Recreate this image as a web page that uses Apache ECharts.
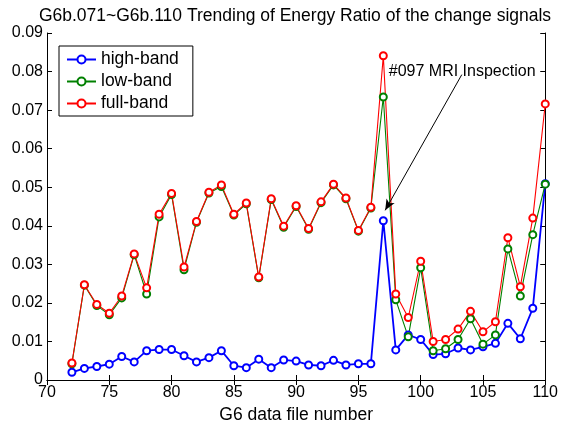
<!DOCTYPE html>
<html>
<head>
<meta charset="utf-8">
<script src="https://cdn.jsdelivr.net/npm/echarts@6/dist/echarts.min.js"></script>
<style>
  html, body { margin: 0; padding: 0; background: #fff; }
  #chart { width: 561px; height: 429px; }
</style>
</head>
<body>
<div id="chart"></div>
<script>
// G6 data file numbers 072..110
const fileNumbers = [
  72, 73, 74, 75, 76, 77, 78, 79, 80, 81,
  82, 83, 84, 85, 86, 87, 88, 89, 90, 91,
  92, 93, 94, 95, 96, 97, 98, 99, 100, 101,
  102, 103, 104, 105, 106, 107, 108, 109, 110
];

// Energy ratio per band
const highBand = [
  0.0020, 0.0030, 0.0035, 0.0041, 0.0061, 0.0047, 0.0076, 0.0079, 0.0079, 0.0063,
  0.0047, 0.0058, 0.0076, 0.0037, 0.0032, 0.0054, 0.0032, 0.0052, 0.0049, 0.0039,
  0.0037, 0.0051, 0.0039, 0.0042, 0.0042, 0.0413, 0.0078, 0.0117, 0.0105, 0.0066,
  0.0068, 0.0083, 0.0078, 0.0086, 0.0095, 0.0147, 0.0107, 0.0186, 0.0509
];
const lowBand = [
  0.0042, 0.0246, 0.0193, 0.0169, 0.0213, 0.0325, 0.0223, 0.0423, 0.0481, 0.0286,
  0.0409, 0.0485, 0.0502, 0.0428, 0.0457, 0.0265, 0.0468, 0.0396, 0.0450, 0.0391,
  0.0460, 0.0506, 0.0470, 0.0386, 0.0446, 0.0734, 0.0208, 0.0112, 0.0291, 0.0076,
  0.0081, 0.0105, 0.0159, 0.0093, 0.0117, 0.0340, 0.0218, 0.0377, 0.0508
];
const fullBand = [
  0.0044, 0.0247, 0.0196, 0.0173, 0.0218, 0.0327, 0.0239, 0.0430, 0.0484, 0.0293,
  0.0411, 0.0487, 0.0506, 0.0430, 0.0459, 0.0267, 0.0470, 0.0399, 0.0452, 0.0393,
  0.0462, 0.0508, 0.0472, 0.0388, 0.0448, 0.0841, 0.0223, 0.0162, 0.0308, 0.0100,
  0.0105, 0.0132, 0.0178, 0.0125, 0.0151, 0.0369, 0.0242, 0.0420, 0.0716
];

const seriesNames = ['high-band', 'low-band', 'full-band'];
const seriesColors = ['#0000ff', '#008000', '#ff0000'];

// Annotation arrow, in data coordinates: [file number, ratio]
const arrowFrom = [103.3, 0.0792];
const arrowTo = [97.15, 0.0440];
const arrowText = '#097 MRI Inspection';

const FONT = '"Liberation Sans", Arial, sans-serif';

function pairs(values) {
  return fileNumbers.map((x, i) => [x, values[i]]);
}

function lineSeries(name, values, color, width, extra) {
  return Object.assign({
    name: name,
    type: 'line',
    data: pairs(values),
    symbol: 'emptyCircle',
    symbolSize: 7,
    showAllSymbol: true,
    animation: false,
    lineStyle: { color: color, width: width },
    itemStyle: { color: color, borderColor: color, borderWidth: 1 },
    emphasis: { disabled: true }
  }, extra || {});
}

const chart = echarts.init(document.getElementById('chart'), null, { renderer: 'canvas' });

const gridBox = { left: 47, right: 14, top: 33, bottom: 41 };

const axisLineStyle = { show: true, lineStyle: { color: '#000', width: 1 } };
const tickStyle = { show: true, inside: true, length: 5, lineStyle: { color: '#000' } };

chart.setOption({
  backgroundColor: '#fff',
  animation: false,
  title: {
    text: 'G6b.071~G6b.110 Trending of Energy Ratio of the change signals',
    left: 295,
    textAlign: 'center',
    top: 7,
    padding: 0,
    textStyle: { fontFamily: FONT, fontSize: 17.5, fontWeight: 'normal', color: '#000' }
  },
  legend: {
    orient: 'vertical',
    left: 59,
    top: 46,
    data: seriesNames,
    backgroundColor: '#fff',
    borderColor: '#000',
    borderWidth: 1,
    padding: [4.5, 14, 3.5, 7],
    itemGap: 4,
    itemWidth: 29,
    itemHeight: 10,
    textStyle: { fontFamily: FONT, fontSize: 17.5, color: '#000', padding: [0, 0, 0, 0] }
  },
  grid: Object.assign({ containLabel: false, show: false }, gridBox),
  xAxis: [
    {
      type: 'value',
      min: 70,
      max: 110,
      interval: 5,
      name: 'G6 data file number',
      nameLocation: 'middle',
      nameGap: 26,
      nameTextStyle: { fontFamily: FONT, fontSize: 17.5, color: '#000' },
      axisLine: axisLineStyle,
      axisTick: tickStyle,
      axisLabel: { fontFamily: FONT, fontSize: 16, color: '#000', margin: 5 },
      splitLine: { show: false }
    },
    {
      type: 'value',
      position: 'top',
      min: 70,
      max: 110,
      interval: 5,
      axisLine: axisLineStyle,
      axisTick: tickStyle,
      axisLabel: { show: false },
      splitLine: { show: false }
    }
  ],
  yAxis: [
    {
      type: 'value',
      min: 0,
      max: 0.09,
      interval: 0.01,
      axisLine: axisLineStyle,
      axisTick: tickStyle,
      axisLabel: {
        fontFamily: FONT, fontSize: 16, color: '#000', margin: 4,
        formatter: v => (v === 0 ? '0' : v.toFixed(2))
      },
      splitLine: { show: false }
    },
    {
      type: 'value',
      position: 'right',
      min: 0,
      max: 0.09,
      interval: 0.01,
      axisLine: axisLineStyle,
      axisTick: tickStyle,
      axisLabel: { show: false },
      splitLine: { show: false }
    }
  ],
  series: [
    lineSeries(seriesNames[0], highBand, seriesColors[0], 1.8),
    lineSeries(seriesNames[1], lowBand, seriesColors[1], 1.1),
    lineSeries(seriesNames[2], fullBand, seriesColors[2], 1.1, {
      markLine: {
        silent: true,
        animation: false,
        symbol: ['none', 'arrow'],
        symbolSize: [7, 11],
        lineStyle: { color: '#000', width: 1, type: 'solid' },
        label: { show: false },
        data: [[{ coord: arrowFrom }, { coord: arrowTo }]]
      }
    })
  ]
});

// Annotation text, sitting on the arrow's tail
const tail = chart.convertToPixel({ xAxisIndex: 0, yAxisIndex: 0 }, arrowFrom);
chart.setOption({
  graphic: [{
    type: 'text',
    x: tail[0] - 73,
    y: tail[1] - 3,
    silent: true,
    z: 100,
    style: {
      text: arrowText,
      fontFamily: FONT,
      fontSize: 16,
      fill: '#000',
      backgroundColor: 'transparent',
      textVerticalAlign: 'middle'
    }
  }]
});
</script>
</body>
</html>
